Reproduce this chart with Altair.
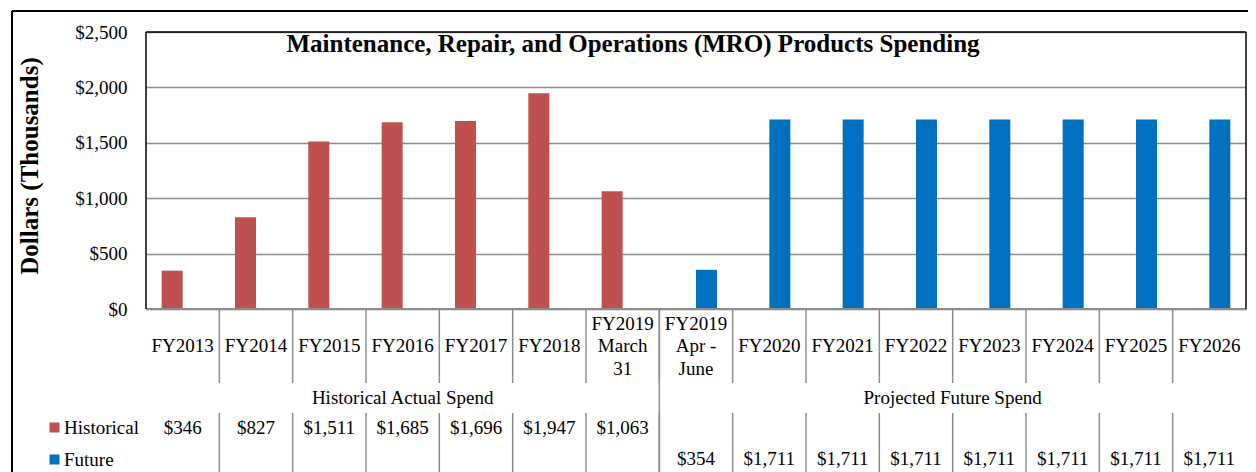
import altair as alt
import pandas as pd

# ---------------- data ----------------
categories = ["FY2013", "FY2014", "FY2015", "FY2016", "FY2017", "FY2018",
              "FY2019\nMarch\n31", "FY2019\nApr -\nJune",
              "FY2020", "FY2021", "FY2022", "FY2023", "FY2024", "FY2025", "FY2026"]
historical_cats = categories[:7]
historical_vals = [346, 827, 1511, 1685, 1696, 1947, 1063]
future_cats = categories[7:]
future_vals = [354, 1711, 1711, 1711, 1711, 1711, 1711, 1711]
series_names = ["Historical", "Future"]
series_colors = ["#C0504D", "#0070C0"]
group_labels = ["Historical Actual Spend", "Projected Future Spend"]
y_ticks = [0, 500, 1000, 1500, 2000, 2500]
title_text = "Maintenance, Repair, and Operations (MRO) Products Spending"
y_title = "Dollars (Thousands)"

# ---------------- tables ----------------
hist_df = pd.DataFrame({"cat": historical_cats, "series": "Historical", "value": historical_vals})
fut_df = pd.DataFrame({"cat": future_cats, "series": "Future", "value": future_vals})
bars_df = pd.concat([hist_df, fut_df], ignore_index=True)
single_df = pd.DataFrame({"cat": [c for c in categories if "\n" not in c]})
multi_df = pd.DataFrame({"cat": [c for c in categories if "\n" in c]})
sep_df = pd.DataFrame({"cat": categories[1:]})
long_sep_df = pd.DataFrame({"cat": [future_cats[0]]})

FONT = "Liberation Serif"
W, H = 1100, 277
GREY = "#8c8c8c"

x_scale = alt.Scale(domain=categories, paddingInner=0, paddingOuter=0)


def xenc(band=0.5):
    return alt.X("cat:N", scale=x_scale, axis=None, sort=categories, bandPosition=band)


bars = alt.Chart(bars_df).mark_bar().encode(
    x=xenc(),
    xOffset=alt.XOffset("series:N",
                        scale=alt.Scale(domain=series_names, paddingInner=0, paddingOuter=0.746)),
    y=alt.Y("value:Q",
            scale=alt.Scale(domain=[0, 2500], nice=False),
            axis=alt.Axis(values=y_ticks, format="$,.0f", grid=True, gridColor=GREY,
                          gridWidth=1.5, domain=False, ticks=False, labelFont=FONT,
                          labelFontSize=19, labelColor="black", labelPadding=19,
                          title=y_title, titleFont=FONT, titleFontSize=25,
                          titleFontWeight="bold", titleColor="black", titleX=-117,
                          titleY=133.5, titleAngle=270, titleAlign="center",
                          titleBaseline="middle")),
    color=alt.Color("series:N",
                    scale=alt.Scale(domain=series_names, range=series_colors),
                    legend=alt.Legend(orient="none", legendX=-101, legendY=386, title=None,
                                      direction="vertical", symbolType="square",
                                      symbolSize=100, symbolStrokeWidth=0, padding=0,
                                      labelFont=FONT, labelFontSize=19, labelColor="black",
                                      labelOffset=0, rowPadding=12)),
)

title = alt.Chart(pd.DataFrame({"t": [title_text]})).mark_text(
    font=FONT, fontSize=25, fontWeight="bold", align="center", baseline="alphabetic",
    color="black").encode(x=alt.value(487), y=alt.value(20), text="t:N")

cat_single = alt.Chart(single_df).mark_text(
    font=FONT, fontSize=19, baseline="middle", align="center", color="black").encode(
    x=xenc(), y=alt.value(314), text="cat:N")
cat_multi = alt.Chart(multi_df).mark_text(
    font=FONT, fontSize=19, lineBreak="\n", lineHeight=22.5, baseline="middle",
    align="center", color="black").encode(x=xenc(), y=alt.value(291.5), text="cat:N")

grp_hist = alt.Chart(pd.DataFrame({"cat": [categories[3]], "t": [group_labels[0]]})).mark_text(
    font=FONT, fontSize=19, baseline="middle", align="center", color="black").encode(
    x=xenc(0.5), y=alt.value(366), text="t:N")
grp_fut = alt.Chart(pd.DataFrame({"cat": [categories[11]], "t": [group_labels[1]]})).mark_text(
    font=FONT, fontSize=19, baseline="middle", align="center", color="black").encode(
    x=xenc(0.0), y=alt.value(366), text="t:N")

hist_vals = alt.Chart(hist_df).mark_text(
    font=FONT, fontSize=19, baseline="middle", align="center", color="black").encode(
    x=xenc(), y=alt.value(395.5), text=alt.Text("value:Q", format="$,.0f"))
fut_vals = alt.Chart(fut_df).mark_text(
    font=FONT, fontSize=19, baseline="middle", align="center", color="black").encode(
    x=xenc(), y=alt.value(426.5), text=alt.Text("value:Q", format="$,.0f"))

sep_top = alt.Chart(sep_df).mark_rule(color=GREY, strokeWidth=1.5).encode(
    x=xenc(0.0), y=alt.value(278), y2=alt.value(351))
sep_bot = alt.Chart(sep_df).mark_rule(color=GREY, strokeWidth=1.5).encode(
    x=xenc(0.0), y=alt.value(381), y2=alt.value(460))
sep_long = alt.Chart(long_sep_df).mark_rule(color=GREY, strokeWidth=1.5).encode(
    x=xenc(0.0), y=alt.value(278), y2=alt.value(460))

one = pd.DataFrame({"k": [0]})
border_left = alt.Chart(one).mark_rule(color="black", strokeWidth=1.5).encode(
    x=alt.value(0), y=alt.value(0), y2=alt.value(H))
border_top = alt.Chart(one).mark_rule(color="black", strokeWidth=1.5).encode(
    x=alt.value(0), x2=alt.value(W), y=alt.value(0))
border_right = alt.Chart(one).mark_rule(color="black", strokeWidth=1.5).encode(
    x=alt.value(W), y=alt.value(0), y2=alt.value(H))
baseline = alt.Chart(one).mark_rule(color=GREY, strokeWidth=2).encode(
    x=alt.value(0), x2=alt.value(W), y=alt.value(H))
outer_left = alt.Chart(one).mark_rule(color="black", strokeWidth=2).encode(
    x=alt.value(-134), y=alt.value(-21), y2=alt.value(460))
outer_top = alt.Chart(one).mark_rule(color="black", strokeWidth=2).encode(
    x=alt.value(-134), x2=alt.value(W + 20), y=alt.value(-21))

chart = alt.layer(
    bars, baseline, border_left, border_top, border_right, title, cat_single, cat_multi,
    grp_hist, grp_fut, hist_vals, fut_vals, sep_top, sep_bot, sep_long,
    outer_left, outer_top,
).properties(
    width=W, height=H,
    autosize=alt.AutoSizeParams(type="none"),
    padding={"left": 138, "top": 24, "right": 2, "bottom": 163},
).configure(font=FONT).configure_view(stroke=None)

chart.save("out.html", embed_options={"renderer": "svg", "actions": False})
